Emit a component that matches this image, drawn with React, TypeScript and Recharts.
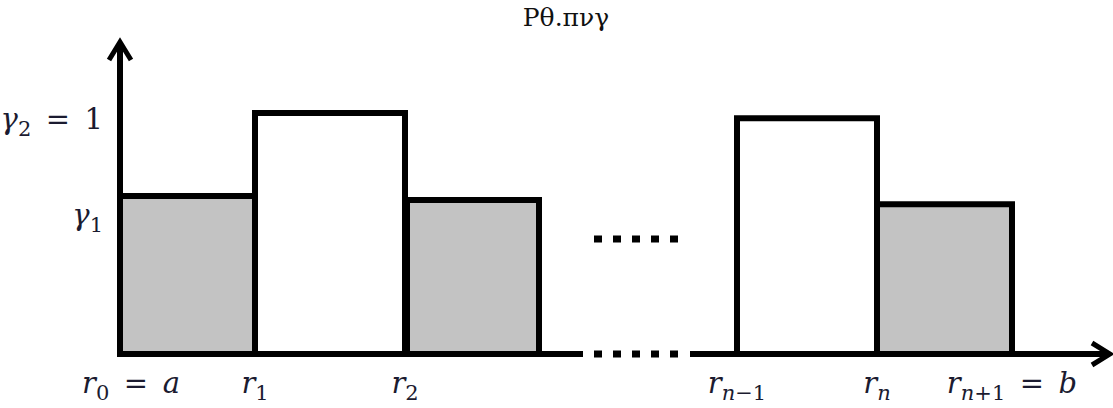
import { ComposedChart, XAxis, YAxis, ReferenceArea, ReferenceLine } from "recharts";

// step diagram: cells [r_i, r_{i+1}] with coefficient gamma_1 (grey) or gamma_2 = 1 (white)
const cellStart = [0, 13.5, 28.7, 61.7, 75.7];
const cellEnd = [13.5, 28.5, 41.9, 75.7, 89.2];
const cellHeight = [0.656, 1, 0.639, 0.979, 0.622];
const cellShaded = [true, false, true, false, true];

// axis pieces (x in the same units as the cells)
const axisSolid = [
  [0, 46.3],
  [57, 99],
];
const axisDots = [47.4, 55.9];
const upperDotsX = [47.4, 55.9];
const upperDotsY = 0.477;
const yAxisTop = 1.295;
const xAxisEnd = 99;

// tick labels
const xTicks = [0, 13.5, 28.5, 61.7, 75.7, 89.2];
const xLabelSub = ["0", "1", "2", "n\u22121", "n", "n+1"];
const xLabelTail = ["a", "", "", "", "", "b"];
const yTicks = [0.6, 1];
const yLabelSub = ["1", "2"];
const yLabelTail = ["", "1"];

const MATH_FONT = "DejaVu Serif";
const INK = "#1b1b30";

function subParts(s: string, size: number) {
  return s.split("").map((ch, i) => (
    <tspan key={i} style={{ fontSize: size, fontStyle: /[a-z]/.test(ch) ? "italic" : "normal" }}>
      {ch}
    </tspan>
  ));
}

function XTick(props: any) {
  const { x, y, payload, index } = props;
  const i = xTicks.indexOf(payload.value);
  const sub = xLabelSub[i];
  const tail = xLabelTail[i];
  const dx = index === 0 ? 11 : 0;
  return (
    <text
      x={x + dx}
      y={y + 39}
      textAnchor="middle"
      fill={INK}
      style={{ fontFamily: MATH_FONT, fontSize: 29 }}
    >
      <tspan style={{ fontStyle: "italic" }}>r</tspan>
      <tspan dy={7}>{subParts(sub, 21)}</tspan>
      {tail ? (
        <>
          <tspan dy={-7}>{"\u2002=\u2002"}</tspan>
          <tspan style={{ fontStyle: "italic" }}>{tail}</tspan>
        </>
      ) : null}
    </text>
  );
}

function YTick(props: any) {
  const { x, y, payload } = props;
  const i = yTicks.indexOf(payload.value);
  const tail = yLabelTail[i];
  return (
    <text
      x={x - 17}
      y={y + 16}
      textAnchor="end"
      fill={INK}
      style={{ fontFamily: MATH_FONT, fontSize: 29 }}
    >
      <tspan style={{ fontStyle: "italic" }}>{"\u03b3"}</tspan>
      <tspan dy={7} style={{ fontSize: 21 }}>{yLabelSub[i]}</tspan>
      {tail ? <tspan dy={-7}>{"\u2002=\u2002" + tail}</tspan> : null}
    </text>
  );
}

// axis line with a chevron at its far end
function ArrowLine(props: any) {
  const { x1, y1, x2, y2 } = props;
  const len = Math.hypot(x2 - x1, y2 - y1) || 1;
  const ux = (x2 - x1) / len;
  const uy = (y2 - y1) / len;
  const back = 18;
  const half = 11;
  const bx = x2 - ux * back;
  const by = y2 - uy * back;
  const pts = `${bx - uy * half},${by + ux * half} ${x2},${y2} ${bx + uy * half},${by - ux * half}`;
  return (
    <g>
      <line x1={x1} y1={y1} x2={x2 - ux * 2} y2={y2 - uy * 2} stroke="#000" strokeWidth={6} />
      <polyline points={pts} fill="none" stroke="#000" strokeWidth={5} strokeLinejoin="miter" />
    </g>
  );
}

export default function App() {
  return (
    <div style={{ position: "absolute", left: 0, top: 0, width: 1113, height: 408, background: "#fff" }}>
      <div
        style={{
          position: "absolute",
          left: 466,
          width: 200,
          top: 5,
          textAlign: "center",
          fontFamily: "DejaVu Serif",
          fontSize: 25,
          lineHeight: 1,
          color: "#111",
        }}
      >
        Ρθ.πνγ
      </div>
      <ComposedChart width={1113} height={408} margin={{ top: 42, right: 3, bottom: 0, left: 0 }} data={[]}>
        <XAxis
          type="number"
          dataKey="x"
          domain={[0, xAxisEnd]}
          ticks={xTicks}
          interval={0}
          axisLine={false}
          tickLine={false}
          tickSize={0}
          tickMargin={0}
          height={54}
          tick={<XTick />}
          allowDataOverflow
        />
        <YAxis
          type="number"
          domain={[0, yAxisTop]}
          ticks={yTicks}
          interval={0}
          axisLine={false}
          tickLine={false}
          tickSize={0}
          tickMargin={0}
          width={120}
          tick={<YTick />}
          allowDataOverflow
        />
        {cellStart.map((s, i) => (
          <ReferenceArea
            key={i}
            x1={s}
            x2={cellEnd[i]}
            y1={0}
            y2={cellHeight[i]}
            fill={cellShaded[i] ? "#c3c3c3" : "#ffffff"}
            fillOpacity={1}
            stroke="#000"
            strokeWidth={6}
            ifOverflow="visible"
          />
        ))}
        <ReferenceLine
          segment={[
            { x: upperDotsX[0], y: upperDotsY },
            { x: upperDotsX[1], y: upperDotsY },
          ]}
          stroke="#000"
          strokeWidth={7}
          strokeDasharray="8 11"
          ifOverflow="visible"
        />
        <ReferenceLine
          segment={[
            { x: axisDots[0], y: 0 },
            { x: axisDots[1], y: 0 },
          ]}
          stroke="#000"
          strokeWidth={7}
          strokeDasharray="8 11"
          ifOverflow="visible"
        />
        <ReferenceLine
          segment={[
            { x: axisSolid[0][0], y: 0 },
            { x: axisSolid[0][1], y: 0 },
          ]}
          stroke="#000"
          strokeWidth={6}
          ifOverflow="visible"
        />
        <ReferenceLine
          segment={[
            { x: axisSolid[1][0], y: 0 },
            { x: axisSolid[1][1], y: 0 },
          ]}
          shape={<ArrowLine />}
          ifOverflow="visible"
        />
        <ReferenceLine
          segment={[
            { x: 0, y: 0 },
            { x: 0, y: yAxisTop },
          ]}
          shape={<ArrowLine />}
          ifOverflow="visible"
        />
      </ComposedChart>
    </div>
  );
}
